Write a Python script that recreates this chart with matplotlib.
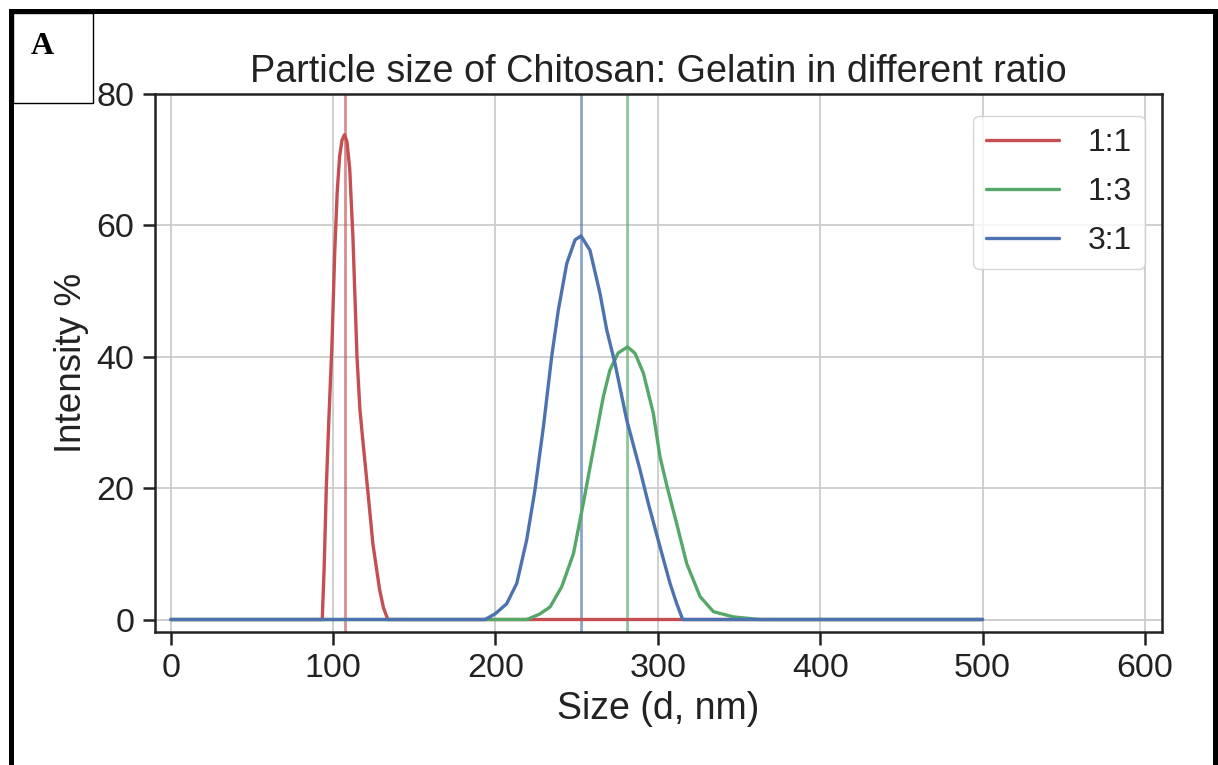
import matplotlib
matplotlib.use("Agg")
import matplotlib.pyplot as plt
from matplotlib.lines import Line2D
from matplotlib.patches import Rectangle

# ---------------- data ----------------
labels = ["1:1", "1:3", "3:1"]
colors = ["#C44E52", "#55A868", "#4C72B0"]

size_11 = [0, 93.3, 94.5, 95.8, 97.3, 99.3, 101.0, 102.5, 104.0, 105.5, 107.0,
           108.5, 110.2, 112.2, 114.7, 116.5, 118.4, 121.4, 124.5, 128.6, 131.0,
           133.7, 500]
int_11 = [0, 0, 8, 20, 30, 42, 56, 65, 70.5, 73.0, 73.8,
          72.8, 68.7, 58.2, 40, 32, 27, 19.5, 11.5, 4.6, 1.8,
          0, 0]

size_13 = [0, 219.2, 227.0, 233.6, 240.8, 248.0, 254.1, 260.2, 266.4, 270.5,
           275.6, 281.4, 286.0, 291.1, 297.2, 301.3, 305.8, 311.6, 317.8, 326.0,
           334.2, 346.5, 362.9, 500]
int_13 = [0, 0, 0.8, 1.9, 5.0, 10.0, 17.7, 25.8, 33.9, 38.0,
          40.6, 41.5, 40.5, 37.5, 31.4, 24.8, 20.1, 14.6, 8.5, 3.5,
          1.2, 0.4, 0, 0]

size_31 = [0, 193.6, 200.0, 206.9, 213.1, 219.2, 224.3, 229.5, 234.6, 238.7,
           243.9, 249.0, 252.7, 258.2, 264.4, 268.5, 273.6, 280.8, 289.0, 294.1,
           301.3, 307.5, 311.5, 315.3, 500]
int_31 = [0, 0, 0.9, 2.4, 5.5, 12.1, 19.7, 29.3, 40.0, 47.1,
          54.2, 57.8, 58.4, 56.2, 49.6, 44.1, 39.0, 30.4, 22.8, 17.7,
          11.1, 5.5, 2.5, 0, 0]

peak_sizes = [107.1, 281.0, 252.7]

x_ticks = [0, 100, 200, 300, 400, 500, 600]
y_ticks = [0, 20, 40, 60, 80]

title = "Particle size of Chitosan: Gelatin in different ratio"
xlabel = "Size (d, nm)"
ylabel = "Intensity %"

# ---------------- style ----------------
plt.rcParams["font.family"] = ["Liberation Sans", "DejaVu Sans"]
W, H = 1218, 765
fig = plt.figure(figsize=(W / 100, H / 100), dpi=100)
fig.patch.set_facecolor("white")

def fx(px):
    return px / W

def fy(py):
    return 1 - py / H

ax_left, ax_right, ax_top, ax_bottom = 155, 1162, 94, 632
ax = fig.add_axes([fx(ax_left), fy(ax_bottom), fx(ax_right) - fx(ax_left),
                   fy(ax_top) - fy(ax_bottom)])

series = [(size_11, int_11), (size_13, int_13), (size_31, int_31)]
for (xs, ys), lab, col, pk in zip(series, labels, colors, peak_sizes):
    ax.plot(xs, ys, color=col, lw=2.4, label=lab, zorder=3,
            solid_joinstyle="round", solid_capstyle="round")
    ax.axvline(pk, color=col, lw=2.0, alpha=0.65, zorder=2)

ax.set_xlim(-9.7, 610.5)
ax.set_ylim(-1.9, 80)
ax.set_xticks(x_ticks)
ax.set_yticks(y_ticks)
ax.grid(True, color="#cccccc", lw=1.3, zorder=0)
ax.set_axisbelow(True)
for sp in ax.spines.values():
    sp.set_color("#222222")
    sp.set_linewidth(1.8)
ax.tick_params(axis="both", direction="out", length=9, width=1.8,
               color="#222222", labelsize=24.5, labelcolor="#222222", pad=6)

ax.set_title(title, fontsize=27.2, color="#222222", pad=9)
ax.set_xlabel(xlabel, fontsize=27, color="#222222", labelpad=5)
ax.set_ylabel(ylabel, fontsize=26.6, color="#222222", labelpad=5)

leg = ax.legend(loc="upper right", bbox_to_anchor=(0.983, 0.96),
                borderaxespad=0, fontsize=23, handlelength=2.3,
                handletextpad=0.9, labelspacing=0.59, frameon=True,
                fancybox=True, framealpha=0.8, edgecolor="#cccccc",
                borderpad=0.4)
for t in leg.get_texts():
    t.set_color("#222222")
for h in leg.get_lines():
    h.set_linewidth(2.4)

# ---------------- figure frame and panel label ----------------
lw_border = 5 * 72 / 100
fig.add_artist(Line2D([fx(10.5), fx(10.5)], [fy(10.5), fy(H + 10)],
                      transform=fig.transFigure, color="black", lw=lw_border,
                      solid_capstyle="projecting"))
fig.add_artist(Line2D([fx(10.5), fx(1215)], [fy(10.5), fy(10.5)],
                      transform=fig.transFigure, color="black", lw=lw_border,
                      solid_capstyle="projecting"))
fig.add_artist(Line2D([fx(1215), fx(1215)], [fy(10.5), fy(H + 10)],
                      transform=fig.transFigure, color="black", lw=lw_border,
                      solid_capstyle="projecting"))
fig.add_artist(Rectangle((fx(13), fy(103)), fx(93) - fx(13), fy(13) - fy(103),
                         transform=fig.transFigure, fill=False,
                         edgecolor="black", lw=1.0))
fig.text(fx(42.5), fy(46), "A", ha="center", va="center", fontsize=23,
         fontweight="bold", family=["Liberation Serif", "DejaVu Serif"])

fig.savefig("out.png", dpi=100, facecolor="white")
